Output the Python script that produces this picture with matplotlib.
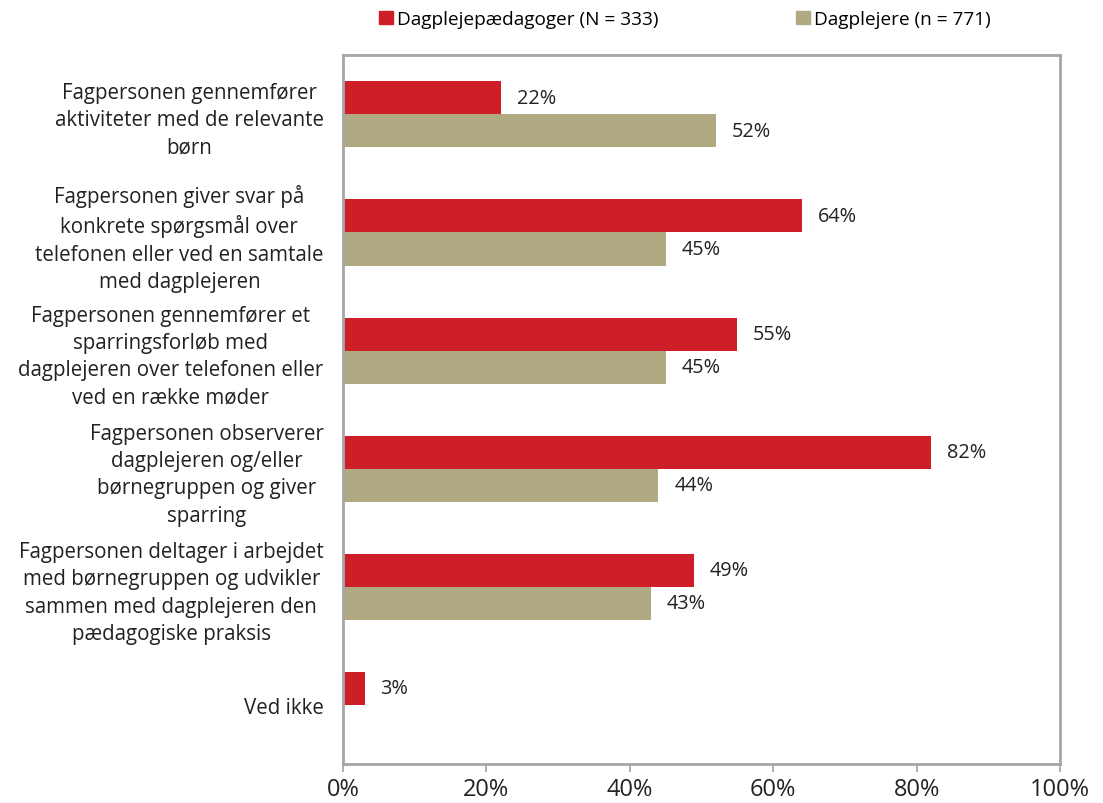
import numpy as np
import matplotlib.pyplot as plt
from matplotlib.patches import Patch

plt.rcParams['font.family'] = ['Open Sans', 'DejaVu Sans']

categories = [
    "Fagpersonen gennemfører\naktiviteter med de relevante\nbørn",
    "Fagpersonen giver svar på\nkonkrete spørgsmål over\ntelefonen eller ved en samtale\nmed dagplejeren",
    "Fagpersonen gennemfører et\nsparringsforløb med\ndagplejeren over telefonen eller\nved en række møder",
    "Fagpersonen observerer\ndagplejeren og/eller\nbørnegruppen og giver\nsparring",
    "Fagpersonen deltager i arbejdet\nmed børnegruppen og udvikler\nsammen med dagplejeren den\npædagogiske praksis",
    "Ved ikke",
]
paedagoger = [22, 64, 55, 82, 49, 3]
dagplejere = [52, 45, 45, 44, 43, None]
series_names = ["Dagplejepædagoger (N = 333)", "Dagplejere (n = 771)"]
xticks = [0, 20, 40, 60, 80, 100]

red = '#CE1F29'
tan = '#B1A981'
frame = '#A6A6A6'
txt = '#222222'

fig = plt.figure(figsize=(11.03, 8.04), dpi=100)
ax = fig.add_axes([0.311, 0.0485, 0.65, 0.8815])

y = np.arange(len(categories))
h = 0.28
ax.barh(y - h / 2, paedagoger, height=h, color=red)
d_vals = [v if v is not None else 0 for v in dagplejere]
ax.barh(y + h / 2, d_vals, height=h, color=tan)

for i, v in enumerate(paedagoger):
    ax.text(v + 2.2, y[i] - h / 2, f"{v}%", va='center', ha='left', fontsize=14.3, color=txt)
for i, v in enumerate(dagplejere):
    if v is not None:
        ax.text(v + 2.2, y[i] + h / 2, f"{v}%", va='center', ha='left', fontsize=14.3, color=txt)

ax.set_xlim(0, 100)
ax.set_ylim(len(categories) - 0.5, -0.5)
ax.set_xticks(xticks)
ax.set_xticklabels([f"{t}%" for t in xticks], fontsize=17, color=txt)
ax.set_yticks(y)
ax.set_yticklabels(categories, fontsize=14.8, color=txt, linespacing=1.39)
for lbl in ax.get_yticklabels():
    lbl.set_multialignment('center')
ax.tick_params(axis='y', length=0, pad=14)
ax.tick_params(axis='x', length=6, width=1.2, color=frame, pad=3)
for s in ax.spines.values():
    s.set_color(frame)
    s.set_linewidth(2)

handles = [Patch(color=red), Patch(color=tan)]
fig.legend(handles, series_names, loc='center', bbox_to_anchor=(0.621, 0.975), ncol=2,
           frameon=False, fontsize=13.7, handlelength=0.72, handleheight=0.72,
           handletextpad=0.2, columnspacing=7.25, borderaxespad=0)

fig.savefig('out.png', dpi=100)
